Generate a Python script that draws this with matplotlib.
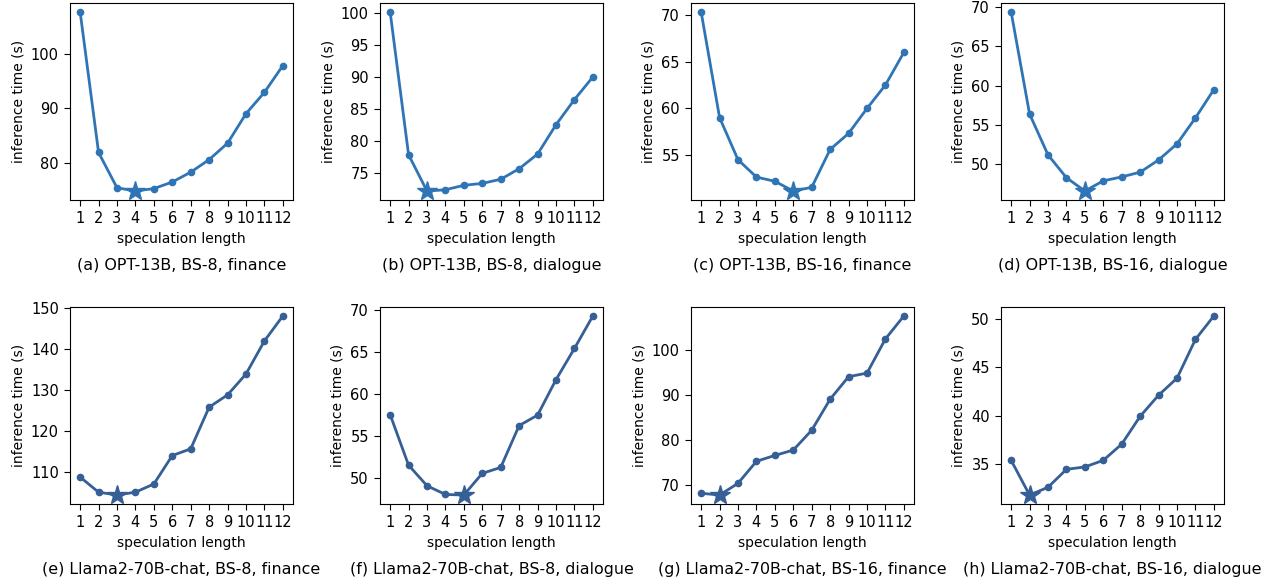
import matplotlib
matplotlib.use("Agg")
import matplotlib.pyplot as plt
import numpy as np

spec_len = list(range(1, 13))

opt_bs8_finance = [107.6, 81.9, 75.45, 74.85, 75.3, 76.5, 78.3, 80.6, 83.6, 89.0, 92.9, 97.8]
opt_bs8_dialogue = [100.2, 77.8, 72.1, 72.3, 73.0, 73.3, 73.95, 75.6, 77.9, 82.5, 86.45, 90.0]
opt_bs16_finance = [70.35, 59.0, 54.47, 52.6, 52.15, 51.1, 51.5, 55.57, 57.3, 59.98, 62.5, 66.0]
opt_bs16_dialogue = [69.37, 56.4, 51.2, 48.3, 46.6, 47.9, 48.4, 49.0, 50.55, 52.6, 55.9, 59.5]
llama_bs8_finance = [108.7, 105.0, 104.3, 105.0, 107.0, 113.96, 115.6, 125.8, 128.8, 133.9, 142.0, 148.1]
llama_bs8_dialogue = [57.56, 51.57, 49.13, 48.1, 48.03, 50.6, 51.3, 56.26, 57.5, 61.7, 65.4, 69.25]
llama_bs16_finance = [68.2, 67.8, 70.4, 75.3, 76.6, 77.8, 82.2, 89.1, 94.1, 94.9, 102.5, 107.6]
llama_bs16_dialogue = [35.38, 31.8, 32.6, 34.45, 34.7, 35.38, 37.05, 39.92, 42.1, 43.85, 47.85, 50.27]

# y tick labels as shown in each panel
yticks = [
    [80, 90, 100],
    [75, 80, 85, 90, 95, 100],
    [55, 60, 65, 70],
    [50, 55, 60, 65, 70],
    [110, 120, 130, 140, 150],
    [50, 55, 60, 65, 70],
    [70, 80, 90, 100],
    [35, 40, 45, 50],
]

captions = [
    "(a) OPT-13B, BS-8, finance",
    "(b) OPT-13B, BS-8, dialogue",
    "(c) OPT-13B, BS-16, finance",
    "(d) OPT-13B, BS-16, dialogue",
    "(e) Llama2-70B-chat, BS-8, finance",
    "(f) Llama2-70B-chat, BS-8, dialogue",
    "(g) Llama2-70B-chat, BS-16, finance",
    "(h) Llama2-70B-chat, BS-16, dialogue",
]
series = [opt_bs8_finance, opt_bs8_dialogue, opt_bs16_finance, opt_bs16_dialogue,
          llama_bs8_finance, llama_bs8_dialogue, llama_bs16_finance, llama_bs16_dialogue]

colors = ["#2f75b5", "#355f95"]

fig = plt.figure(figsize=(12.73, 5.84), dpi=100)
W, H = 1273, 584
lefts = [70, 380, 691, 1001]
tops = [3, 307]
aw, ah = 223, 197

for i, (vals, cap) in enumerate(zip(series, captions)):
    row, col = divmod(i, 4)
    ax = fig.add_axes([lefts[col] / W, 1 - (tops[row] + ah) / H, aw / W, ah / H])
    c = colors[row]
    ax.plot(spec_len, vals, color=c, marker="o", markersize=4.5, linewidth=2)
    best = int(np.argmin(vals))
    ax.plot(spec_len[best], vals[best], marker="*", color=c, markersize=15, linestyle="none")
    ax.set_xticks(spec_len)
    ax.set_yticks(yticks[i])
    ax.set_xlabel("speculation length", fontsize=10)
    ax.set_ylabel("inference time (s)", fontsize=10)
    ax.tick_params(labelsize=10.5, length=4.5)
    ax.text(0.5, -0.33, cap, transform=ax.transAxes, ha="center", va="center", fontsize=11.4)

fig.savefig("out.png", dpi=100)
